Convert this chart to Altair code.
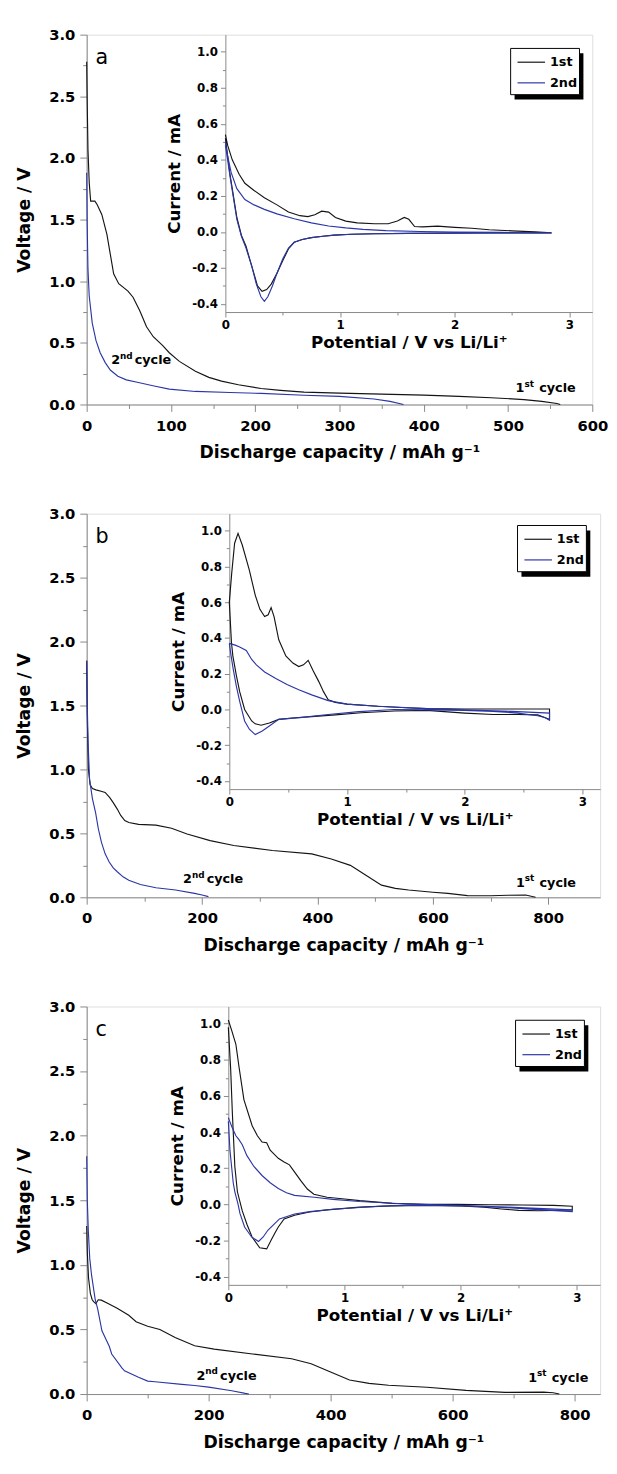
import altair as alt
import pandas as pd

# ---------------- Panel a : galvanostatic discharge ----------------
a1_cap = [0, 0.5, 1.5, 3, 4.7, 9.7, 12.5, 18, 24, 28, 32, 38, 49, 55, 63, 71, 79, 90, 98, 110,
          129, 145, 160, 180, 207, 230, 258, 300, 350, 400, 442, 480, 519, 540, 558, 562]
a1_v = [2.78, 2.5, 2.07, 1.8, 1.65, 1.65, 1.62, 1.54, 1.38, 1.22, 1.06, 0.98, 0.92, 0.87, 0.76, 0.63,
        0.55, 0.48, 0.42, 0.35, 0.27, 0.22, 0.19, 0.16, 0.13, 0.115, 0.10, 0.092, 0.084, 0.076, 0.066,
        0.055, 0.04, 0.025, 0.008, 0.0]
a2_cap = [0, 0.5, 1.5, 3, 6.6, 11, 16, 22, 28, 37, 47, 60, 80, 98, 129, 170, 207, 258, 300, 341, 360, 376]
a2_v = [1.88, 1.5, 1.1, 0.88, 0.66, 0.52, 0.42, 0.34, 0.28, 0.23, 0.2, 0.18, 0.15, 0.125, 0.106, 0.097,
        0.09, 0.075, 0.066, 0.045, 0.025, 0.0]

# Panel a inset : cyclic voltammetry (upper = anodic sweep, lower = cathodic sweep)
a1_up_e = [0, 0.02, 0.06, 0.12, 0.17, 0.25, 0.34, 0.45, 0.55, 0.65, 0.72, 0.78, 0.84, 0.9, 0.96, 1.05,
           1.15, 1.3, 1.42, 1.5, 1.56, 1.6, 1.65, 1.72, 1.85, 2.0, 2.15, 2.3, 2.5, 2.7, 2.84]
a1_up_i = [0.54, 0.48, 0.40, 0.32, 0.27, 0.23, 0.19, 0.15, 0.11, 0.09, 0.085, 0.095, 0.115, 0.11, 0.08,
           0.06, 0.05, 0.045, 0.045, 0.06, 0.08, 0.07, 0.03, 0.028, 0.032, 0.025, 0.02, 0.012, 0.006,
           0.0, -0.005]
a1_lo_e = [2.84, 2.5, 2.2, 1.9, 1.6, 1.3, 1.1, 0.95, 0.85, 0.75, 0.67, 0.6, 0.55, 0.5, 0.45, 0.4, 0.36,
           0.32, 0.28, 0.23, 0.18, 0.14, 0.1, 0.07, 0.04, 0.02, 0.0]
a1_lo_i = [-0.006, -0.006, -0.006, -0.007, -0.008, -0.01, -0.013, -0.018, -0.024, -0.032, -0.042, -0.058,
           -0.095, -0.16, -0.23, -0.29, -0.32, -0.33, -0.3, -0.19, -0.08, -0.02, 0.08, 0.2, 0.32, 0.42, 0.52]
a2_up_e = [0, 0.02, 0.05, 0.1, 0.17, 0.25, 0.34, 0.45, 0.6, 0.75, 0.9, 1.05, 1.2, 1.4, 1.7, 2.0, 2.4, 2.84]
a2_up_i = [0.5, 0.42, 0.33, 0.24, 0.18, 0.15, 0.125, 0.1, 0.073, 0.05, 0.033, 0.022, 0.014, 0.007, 0.002,
           -0.001, -0.003, -0.005]
a2_lo_e = [2.84, 2.4, 2.0, 1.6, 1.3, 1.1, 0.95, 0.85, 0.75, 0.67, 0.6, 0.55, 0.5, 0.45, 0.41, 0.37, 0.34,
           0.31, 0.27, 0.23, 0.18, 0.14, 0.1, 0.07, 0.04, 0.02, 0.0]
a2_lo_i = [-0.006, -0.006, -0.007, -0.008, -0.01, -0.013, -0.018, -0.024, -0.032, -0.042, -0.058, -0.09,
           -0.15, -0.23, -0.3, -0.36, -0.385, -0.36, -0.29, -0.19, -0.09, -0.025, 0.07, 0.19, 0.31, 0.4, 0.48]

# ---------------- Panel b ----------------
b1_cap = [0, 1, 3, 6, 10, 16, 25, 32, 40, 46, 53, 59, 66, 73, 90, 120, 147, 174, 214, 255, 322, 390,
          424, 457, 484, 511, 535, 558, 600, 626, 660, 700, 730, 761, 778]
b1_v = [1.85, 1.4, 1.0, 0.88, 0.85, 0.84, 0.83, 0.82, 0.78, 0.74, 0.69, 0.64, 0.6, 0.585, 0.57, 0.564,
        0.54, 0.495, 0.443, 0.405, 0.366, 0.34, 0.30, 0.25, 0.173, 0.095, 0.07, 0.057, 0.04, 0.031, 0.013,
        0.012, 0.016, 0.018, 0.0]
b2_cap = [0, 1, 2.5, 5, 10, 15.5, 20, 25.6, 32, 39, 46, 53, 63, 73, 93, 120, 154, 187, 200, 211]
b2_v = [1.85, 1.5, 1.2, 0.92, 0.77, 0.66, 0.54, 0.43, 0.34, 0.276, 0.23, 0.2, 0.16, 0.134, 0.1, 0.075,
        0.057, 0.031, 0.018, 0.005]

b1_up_e = [0, 0.02, 0.045, 0.074, 0.11, 0.17, 0.22, 0.26, 0.3, 0.33, 0.355, 0.38, 0.42, 0.48, 0.54, 0.59,
           0.63, 0.67, 0.71, 0.76, 0.8, 0.84, 0.9, 1.0, 1.26, 1.5, 1.68, 2.0, 2.24, 2.5, 2.72]
b1_up_i = [0.6, 0.76, 0.93, 0.985, 0.92, 0.78, 0.64, 0.56, 0.52, 0.53, 0.57, 0.52, 0.39, 0.30, 0.26, 0.24,
           0.25, 0.275, 0.22, 0.156, 0.1, 0.055, 0.04, 0.03, 0.018, 0.01, 0.005, 0.003, 0.003, 0.003, 0.003]
b1_lo_e = [2.72, 2.7, 2.62, 2.45, 2.24, 2.0, 1.68, 1.4, 1.12, 0.9, 0.7, 0.56, 0.42, 0.34, 0.27, 0.22,
           0.19, 0.13, 0.088, 0.06, 0.03, 0.018, 0.004, 0.0]
b1_lo_i = [-0.055, -0.05, -0.03, -0.028, -0.028, -0.02, -0.005, -0.008, -0.018, -0.03, -0.04, -0.046,
           -0.055, -0.075, -0.088, -0.08, -0.064, 0.0, 0.1, 0.19, 0.3, 0.376, 0.55, 0.6]
b2_up_e = [0, 0.05, 0.088, 0.144, 0.19, 0.23, 0.3, 0.395, 0.49, 0.59, 0.7, 0.84, 1.0, 1.26, 1.68, 2.0,
           2.4, 2.72]
b2_up_i = [0.37, 0.36, 0.35, 0.33, 0.28, 0.25, 0.21, 0.174, 0.14, 0.11, 0.082, 0.05, 0.03, 0.018, 0.005,
           -0.002, -0.01, -0.02]
b2_lo_e = [2.72, 2.68, 2.62, 2.45, 2.24, 2.0, 1.7, 1.4, 1.1, 0.84, 0.6, 0.42, 0.34, 0.28, 0.22, 0.17,
           0.13, 0.088, 0.06, 0.032, 0.015, 0.0]
b2_lo_i = [-0.06, -0.045, -0.035, -0.02, -0.01, -0.005, -0.002, 0.0, -0.012, -0.028, -0.045, -0.055,
           -0.092, -0.12, -0.14, -0.11, -0.064, 0.046, 0.13, 0.23, 0.3, 0.37]

# ---------------- Panel c ----------------
c1_cap = [0, 1, 3, 6, 9, 11.4, 15, 19, 24, 35, 50, 69, 81, 100, 120, 145, 177, 209, 272, 336, 368, 399,
          431, 463, 495, 558, 622, 686, 749, 765, 775]
c1_v = [1.3, 1.1, 0.9, 0.78, 0.73, 0.715, 0.70, 0.73, 0.727, 0.70, 0.664, 0.61, 0.56, 0.525, 0.5, 0.437,
        0.374, 0.348, 0.31, 0.273, 0.235, 0.172, 0.109, 0.083, 0.068, 0.053, 0.028, 0.013, 0.015, 0.01, 0.0]
c2_cap = [0, 1, 2.7, 5, 8, 14, 18, 25, 37, 41, 58, 62, 85, 100, 112, 156, 177, 200, 238, 260, 266]
c2_v = [1.84, 1.5, 1.26, 1.05, 0.92, 0.73, 0.66, 0.49, 0.37, 0.31, 0.2, 0.18, 0.13, 0.1, 0.095, 0.075,
        0.066, 0.054, 0.026, 0.005, 0.0]

c1_up_e = [0, 0.03, 0.065, 0.092, 0.134, 0.205, 0.25, 0.29, 0.33, 0.36, 0.43, 0.48, 0.526, 0.58, 0.625,
           0.68, 0.736, 0.85, 1.0, 1.13, 1.41, 1.7, 1.97, 2.25, 2.53, 2.8, 2.96]
c1_up_i = [1.02, 0.96, 0.886, 0.76, 0.58, 0.435, 0.38, 0.345, 0.341, 0.3, 0.255, 0.235, 0.219, 0.17, 0.13,
           0.085, 0.056, 0.04, 0.03, 0.021, 0.006, 0.0, 0.0, -0.002, -0.003, -0.005, -0.01]
c1_lo_e = [2.96, 2.8, 2.67, 2.5, 2.35, 2.2, 2.0, 1.7, 1.4, 1.13, 0.85, 0.7, 0.57, 0.48, 0.43, 0.4, 0.37,
           0.33, 0.27, 0.204, 0.16, 0.12, 0.078, 0.056, 0.035, 0.02, 0.0]
c1_lo_i = [-0.03, -0.033, -0.035, -0.033, -0.025, -0.015, -0.008, -0.005, -0.008, -0.015, -0.03, -0.042,
           -0.06, -0.08, -0.125, -0.16, -0.196, -0.246, -0.24, -0.18, -0.11, -0.036, 0.07, 0.21, 0.5, 0.75,
           0.98]
c2_up_e = [0, 0.03, 0.065, 0.09, 0.12, 0.16, 0.22, 0.29, 0.36, 0.43, 0.5, 0.57, 0.74, 0.9, 1.13, 1.5,
           1.97, 2.4, 2.96]
c2_up_i = [0.48, 0.43, 0.38, 0.36, 0.33, 0.27, 0.21, 0.16, 0.12, 0.088, 0.065, 0.05, 0.04, 0.028, 0.016,
           0.004, -0.005, -0.015, -0.03]
c2_lo_e = [2.96, 2.7, 2.4, 2.1, 1.8, 1.6, 1.3, 0.9, 0.7, 0.57, 0.44, 0.34, 0.3, 0.26, 0.2, 0.14, 0.1,
           0.084, 0.056, 0.042, 0.014, 0.0]
c2_lo_i = [-0.04, -0.03, -0.018, -0.01, -0.006, -0.004, -0.01, -0.027, -0.04, -0.053, -0.08, -0.143,
           -0.18, -0.205, -0.18, -0.125, -0.05, 0.0, 0.07, 0.12, 0.3, 0.46]

# annotation anchors (capacity, voltage) for "2nd cycle" and "1st cycle"
a_ann_cap = [29, 509]
a_ann_v = [0.325, 0.098]
b_ann_cap = [167, 744]
b_ann_v = [0.108, 0.082]
c_ann_cap = [180, 724]
c_ann_v = [0.108, 0.096]
ann_num = ["2", "1"]
ann_sup = ["nd", "st"]
ann_word = ["cycle", "cycle"]

CYCLES = ["1st", "2nd"]
FONT = "DejaVu Sans"
BLACK = "#141414"
BLUE = "#2b36a6"
color_scale = alt.Scale(domain=CYCLES, range=[BLACK, BLUE])
B = "bold"
LEG_W, LEG_H = 70, 47


def curve_frame(c1x, c1y, c2x, c2y, xn, yn):
    rows = []
    for cyc, xs, ys in ((CYCLES[0], c1x, c1y), (CYCLES[1], c2x, c2y)):
        for i, (x, y) in enumerate(zip(xs, ys)):
            rows.append({xn: x, yn: y, "cycle": cyc, "i": i})
    return pd.DataFrame(rows)


def panel(main, cv, ann, letter, W, H, xmax, xmaj, xmin, ins_left, ins_bottom, ins_xmax, legx, legy):
    xs = alt.Scale(domain=[0, xmax], nice=False, zero=False)
    ys = alt.Scale(domain=[0, 3], nice=False, zero=False)
    ixs = alt.Scale(domain=[0, ins_xmax], range=[ins_left, W], nice=False, zero=False)
    iys = alt.Scale(domain=[-0.445, 1.095], range=[ins_bottom, 0], nice=False, zero=False)

    nogrid = dict(grid=False, gridOpacity=0, gridWidth=0)
    common = dict(labelFont=FONT, labelFontWeight=B, titleFont=FONT, titleFontWeight=B,
                  labelColor="black", titleColor="black", labelOverlap=False, **nogrid)
    x_major = alt.Axis(values=xmaj, format="d", title="Discharge capacity / mAh g\u207b\u00b9",
                       orient="bottom", tickSize=7, labelPadding=7, titlePadding=11,
                       labelFontSize=15, titleFontSize=17.5, labelFlush=False, **common)
    y_major = alt.Axis(values=[0, 0.5, 1.0, 1.5, 2.0, 2.5, 3.0], format=".1f", title="Voltage / V",
                       orient="left", tickSize=7, labelPadding=5, titlePadding=16,
                       labelFontSize=15, titleFontSize=17.5, **common)
    x_minor = alt.Axis(values=xmin, labels=False, title=None, domain=False, tickSize=4,
                       orient="bottom", **nogrid)
    y_minor = alt.Axis(values=[0.25, 0.75, 1.25, 1.75, 2.25, 2.75], labels=False, title=None,
                       domain=False, tickSize=4, orient="left", **nogrid)

    ix_major = alt.Axis(values=[0, 1, 2, 3], format="d", title="Potential / V vs Li/Li\u207a",
                        orient="bottom", offset=-(H - ins_bottom), tickSize=5, labelPadding=3,
                        titlePadding=4, labelFontSize=12, titleFontSize=17, labelFlush=False, **common)
    iy_major = alt.Axis(values=[-0.4, -0.2, 0, 0.2, 0.4, 0.6, 0.8, 1.0],
                        labelExpr="replace(format(datum.value, '.1f'), '\u2212', '-')",
                        title="Current / mA", orient="left", offset=-ins_left, tickSize=5,
                        labelPadding=3, titlePadding=8, labelFontSize=12, titleFontSize=17, **common)
    ix_minor = alt.Axis(values=[0.5, 1.5, 2.5], labels=False, title=None, domain=False,
                        tickSize=3, orient="bottom", offset=-(H - ins_bottom), **nogrid)
    iy_minor = alt.Axis(values=[-0.3, -0.1, 0.1, 0.3, 0.5, 0.7, 0.9], labels=False, title=None,
                        domain=False, tickSize=3, orient="left", offset=-ins_left, **nogrid)

    legend = alt.Legend(orient="none", legendX=legx, legendY=legy, title=None, padding=6,
                        labelFont=FONT, labelFontWeight=B, labelFontSize=13, labelColor="black",
                        symbolType="M-1,0H3", symbolSize=196, symbolStrokeWidth=1.2, labelOffset=18,
                        rowPadding=6, zindex=5)

    main_lines = alt.Chart(main).mark_line(strokeWidth=1.15).encode(
        x=alt.X("cap:Q", scale=xs, axis=x_major),
        y=alt.Y("v:Q", scale=ys, axis=y_major),
        color=alt.Color("cycle:N", scale=color_scale, legend=legend),
        order=alt.Order("i:Q"),
    )
    main_minor = alt.Chart(main).mark_point(opacity=0).encode(
        x=alt.X("cap:Q", scale=xs, axis=x_minor),
        y=alt.Y("v:Q", scale=ys, axis=y_minor),
    )
    cv_lines = alt.Chart(cv).mark_line(strokeWidth=1.15).encode(
        x=alt.X("e:Q", scale=ixs, axis=ix_major),
        y=alt.Y("cur:Q", scale=iys, axis=iy_major),
        color=alt.Color("cycle:N", scale=color_scale, legend=legend),
        order=alt.Order("i:Q"),
    )
    cv_minor = alt.Chart(cv).mark_point(opacity=0).encode(
        x=alt.X("e:Q", scale=ixs, axis=ix_minor),
        y=alt.Y("cur:Q", scale=iys, axis=iy_minor),
    )
    txt = dict(font=FONT, fontWeight=B, color="black", align="left", baseline="alphabetic")
    t_num = alt.Chart(ann).mark_text(fontSize=13, **txt).encode(
        x=alt.X("cap:Q", scale=xs, axis=None), y=alt.Y("v:Q", scale=ys, axis=None), text="num:N")
    t_sup = alt.Chart(ann).mark_text(fontSize=9, dx=9, dy=-6, **txt).encode(
        x=alt.X("cap:Q", scale=xs, axis=None), y=alt.Y("v:Q", scale=ys, axis=None), text="sup:N")
    t_word = alt.Chart(ann).mark_text(fontSize=13, dx=24, **txt).encode(
        x=alt.X("cap:Q", scale=xs, axis=None), y=alt.Y("v:Q", scale=ys, axis=None), text="word:N")
    t_letter = alt.Chart(pd.DataFrame({"t": [letter]})).mark_text(
        font=FONT, fontSize=21, color="black", align="left", baseline="alphabetic").encode(
        x=alt.value(9), y=alt.value(30), text="t:N")
    one = pd.DataFrame({"t": [0]})
    shadow = alt.Chart(one).mark_rect(fill="black").encode(
        x=alt.value(legx + 4), x2=alt.value(legx + LEG_W + 4),
        y=alt.value(legy + 5), y2=alt.value(legy + LEG_H + 5))
    box = alt.Chart(one).mark_rect(fill="white", stroke="black", strokeWidth=1).encode(
        x=alt.value(legx), x2=alt.value(legx + LEG_W), y=alt.value(legy), y2=alt.value(legy + LEG_H))

    return alt.layer(main_lines, main_minor, cv_lines, cv_minor, t_num, t_sup, t_word, t_letter,
                     shadow, box).resolve_scale(x="independent", y="independent").properties(
        width=W, height=H)


def ann_frame(caps, vs):
    return pd.DataFrame({"cap": caps, "v": vs, "num": ann_num, "sup": ann_sup, "word": ann_word})


main_a = curve_frame(a1_cap, a1_v, a2_cap, a2_v, "cap", "v")
main_b = curve_frame(b1_cap, b1_v, b2_cap, b2_v, "cap", "v")
main_c = curve_frame(c1_cap, c1_v, c2_cap, c2_v, "cap", "v")
cv_a = curve_frame(a1_up_e + a1_lo_e, a1_up_i + a1_lo_i, a2_up_e + a2_lo_e, a2_up_i + a2_lo_i, "e", "cur")
cv_b = curve_frame(b1_up_e + b1_lo_e, b1_up_i + b1_lo_i, b2_up_e + b2_lo_e, b2_up_i + b2_lo_i, "e", "cur")
cv_c = curve_frame(c1_up_e + c1_lo_e, c1_up_i + c1_lo_i, c2_up_e + c2_lo_e, c2_up_i + c2_lo_i, "e", "cur")

pa = panel(main_a, cv_a, ann_frame(a_ann_cap, a_ann_v), "a", 514, 376, 600,
           [0, 100, 200, 300, 400, 500, 600], [50, 150, 250, 350, 450, 550], 141, 282, 3.2, 431, 14)
pb = panel(main_b, cv_b, ann_frame(b_ann_cap, b_ann_v), "b", 522, 390, 890,
           [0, 200, 400, 600, 800], [100, 300, 500, 700], 145, 280, 3.15, 438, 12)
pc = panel(main_c, cv_c, ann_frame(c_ann_cap, c_ann_v), "c", 522, 394, 842,
           [0, 200, 400, 600, 800], [100, 300, 500, 700], 144, 283, 3.2, 436, 14)

chart = alt.vconcat(pa, pb, pc, spacing=45).resolve_scale(color="independent").properties(
    padding={"left": 6, "top": 7, "right": 0, "bottom": 0}
).configure_axis(
    grid=False, gridOpacity=0, gridWidth=0, domainColor="black", domainWidth=1.3, tickColor="black",
    tickWidth=1.2, labelColor="black", titleColor="black", labelFont=FONT, titleFont=FONT,
    labelFontWeight="bold", titleFontWeight="bold"
).configure_view(stroke="black", strokeWidth=1.3).configure(background="white")

chart.save("out.html", embed_options={"renderer": "svg", "actions": False})
